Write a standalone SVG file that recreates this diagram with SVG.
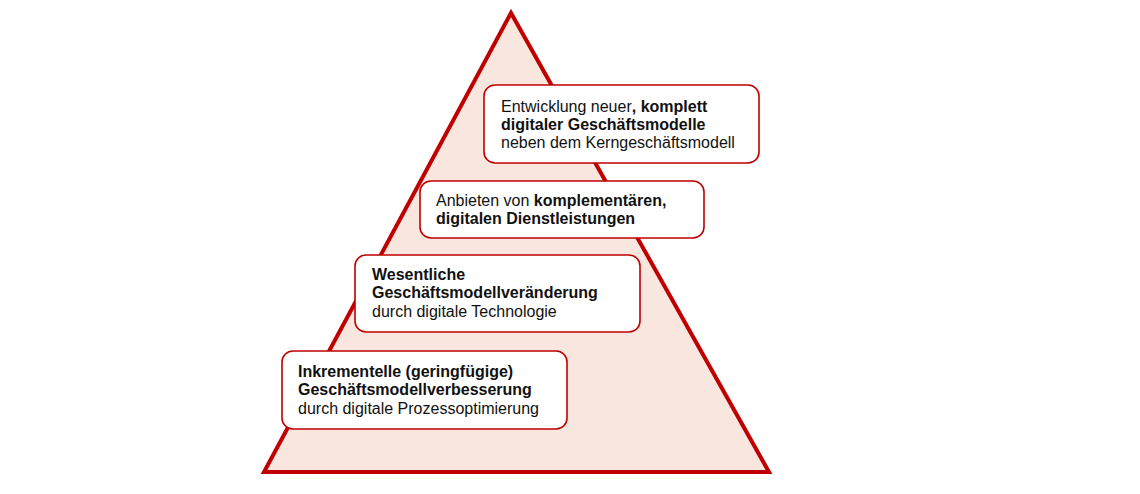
<svg xmlns="http://www.w3.org/2000/svg" width="1140" height="494" viewBox="0 0 1140 494">
<style>
.box{fill:#ffffff;stroke:#c00000;stroke-width:1.6}
.t{font-family:"Liberation Sans",Arial,sans-serif;font-size:16px;fill:#111111}
.b{font-weight:bold}
</style>
<rect width="1140" height="494" fill="#ffffff"/>
<g id="pyramid">
<polygon points="511,13 264,472 769,472" fill="#f9e6de" stroke="#c00000" stroke-width="4" stroke-linejoin="miter"/>
</g>
<g id="connectors"></g>
<g id="level4">
<rect class="box" x="484" y="85" width="275" height="78" rx="11"/>
<text class="t" x="501" y="112">Entwicklung neuer<tspan class="b">, komplett</tspan></text>
<text class="t b" x="501" y="130">digitaler Geschäftsmodelle</text>
<text class="t" x="501" y="148">neben dem Kerngeschäftsmodell</text>
</g>
<g id="level3">
<rect class="box" x="420" y="181" width="284" height="57" rx="11"/>
<text class="t" x="436" y="206">Anbieten von <tspan class="b">komplementären,</tspan></text>
<text class="t b" x="436" y="224">digitalen Dienstleistungen</text>
</g>
<g id="level2">
<rect class="box" x="355" y="255" width="285" height="77" rx="11"/>
<text class="t b" x="372" y="280">Wesentliche</text>
<text class="t b" x="372" y="298">Geschäftsmodellveränderung</text>
<text class="t" x="372" y="317">durch digitale Technologie</text>
</g>
<g id="level1">
<rect class="box" x="282" y="351" width="285" height="78" rx="11"/>
<text class="t b" x="298" y="377">Inkrementelle (geringfügige)</text>
<text class="t b" x="298" y="395">Geschäftsmodellverbesserung</text>
<text class="t" x="298" y="414">durch digitale Prozessoptimierung</text>
</g>
</svg>
